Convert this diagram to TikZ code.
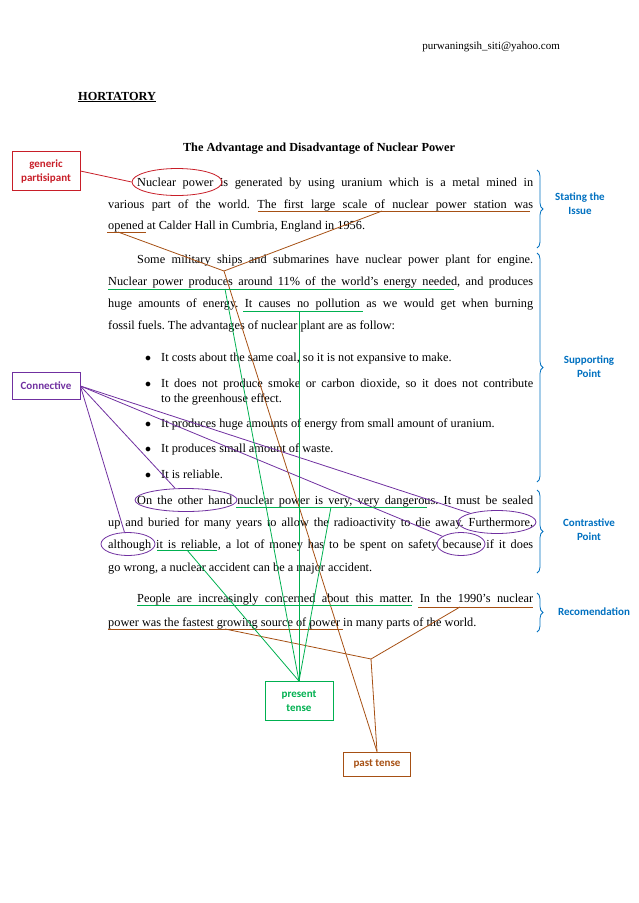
\documentclass[tikz,border=0pt]{standalone}
\usepackage{fontspec}
\setmainfont{Liberation Serif}
\newfontfamily\lab{Carlito}
\usetikzlibrary{decorations.pathreplacing,shapes.geometric}
\definecolor{pred}{RGB}{200,30,40}
\definecolor{ppur}{RGB}{112,48,160}
\definecolor{pgrn}{RGB}{0,176,80}
\definecolor{pbrn}{RGB}{166,80,20}
\definecolor{pblu}{RGB}{0,112,192}
\frenchspacing
\begin{document}
\begin{tikzpicture}[x=1pt,y=-1pt,
 txt/.style={anchor=base west,inner sep=0pt,font=\fontsize{12.3}{14}\selectfont},
 lbox/.style={draw,thick,align=center,font=\lab\bfseries\fontsize{11}{14}\selectfont,inner sep=3pt},
 lbl/.style={align=center,text=pblu,font=\lab\bfseries\fontsize{11}{14}\selectfont},
 ell/.style={draw,thick,ellipse,inner sep=0pt},
 ul/.style={thick},
 br/.style={draw=pblu,thick,decorate,decoration={brace,amplitude=6pt}},
 ln/.style={thick}]
\useasboundingbox (0,0) rectangle (638,903);
\def\J#1#2{\makebox[#1pt][s]{#2}}
% header
\node[txt,anchor=base east,font=\fontsize{11}{13}\selectfont] (mail) at (560,49) {purwaningsih\_siti@yahoo.com};
\node[txt,font=\bfseries\fontsize{12.3}{14}\selectfont] (hort) at (78,100) {\underline{HORTATORY}};
\node[txt,anchor=base,font=\bfseries\fontsize{12.3}{14}\selectfont] (title) at (319,151) {The Advantage and Disadvantage of Nuclear Power};
% P1
\node[txt] (l1) at (137,186) {\J{396}{Nuclear power is generated by using uranium which is a metal mined in}};
\node[txt] (l2) at (108,208) {\J{425}{various part of the world. The first large scale of nuclear power station was}};
\node[txt] (l3) at (108,229) {opened at Calder Hall in Cumbria, England in 1956.};
% P2
\node[txt] (l4) at (137,263) {\J{396}{Some military ships and submarines have nuclear power plant for engine.}};
\node[txt] (l5) at (108,285) {\J{425}{Nuclear power produces around 11\% of the world's energy needed, and produces}};
\node[txt] (l6) at (108,307) {\J{425}{huge amounts of energy. It causes no pollution as we would get when burning}};
\node[txt] (l7) at (108,329) {fossil fuels. The advantages of nuclear plant are as follow:};
% bullets
\foreach \y/\t in {361/{It costs about the same coal, so it is not expansive to make.},387/{\J{372}{It does not produce smoke or carbon dioxide, so it does not contribute}},427/{It produces huge amounts of energy from small amount of uranium.},452/{It produces small amount of waste.},478/{It is reliable.}}
 {\node[txt] at (145,\y) {$\bullet$}; \node[txt] at (161,\y) {\t};}
\node[txt] (b2b) at (161,402) {to the greenhouse effect.};
% P3
\node[txt] (l8) at (137,504) {\J{396}{On the other hand nuclear power is very, very dangerous. It must be sealed}};
\node[txt] (l9) at (108,526) {\J{425}{up and buried for many years to allow the radioactivity to die away. Furthermore,}};
\node[txt] (l10) at (108,548) {\J{425}{although it is reliable, a lot of money has to be spent on safety because if it does}};
\node[txt] (l11) at (108,571) {go wrong, a nuclear accident can be a major accident.};
% P4
\node[txt] (l12) at (137,602) {\J{396}{People are increasingly concerned about this matter. In the 1990's nuclear}};
\node[txt] (l13) at (108,626) {power was the fastest growing source of power in many parts of the world.};
% label boxes
\node[lbox,draw=pred,text=pred,minimum width=68pt,minimum height=39pt] (gen) at (46,171) {generic\\partisipant};
\node[lbox,draw=ppur,text=ppur,minimum width=68pt,minimum height=27pt] (con) at (46,386) {Connective};
\node[lbox,draw=pgrn,text=pgrn,minimum width=68pt,minimum height=39pt] (pres) at (299,701) {present\\tense};
\node[lbox,draw=pbrn,text=pbrn,minimum width=67pt,minimum height=24pt] (past) at (377,764) {past tense};
% braces and labels
\draw[br] (537,170) -- (537,248);
\draw[br] (537,253) -- (537,482);
\draw[br] (537,490) -- (537,573);
\draw[br] (537,593) -- (537,632);
\node[lbl] (s1) at (580,204) {Stating the\\Issue};
\node[lbl] (s2) at (589,367) {Supporting\\Point};
\node[lbl] (s3) at (589,530) {Contrastive\\Point};
\node[lbl] (s4) at (594,612) {Recomendation};
% ellipses
\node[ell,draw=pred,minimum width=90pt,minimum height=27pt] (eNP) at (177,182) {};
\node[ell,draw=ppur,minimum width=102pt,minimum height=23pt] (eOH) at (186,500) {};
\node[ell,draw=ppur,minimum width=78pt,minimum height=23pt] (eFu) at (497,522) {};
\node[ell,draw=ppur,minimum width=54pt,minimum height=23pt] (eAl) at (128,544) {};
\node[ell,draw=ppur,minimum width=48pt,minimum height=23pt] (eBe) at (461,544) {};
\draw[pred,ln] (gen.east) -- (eNP.west);
\foreach \e in {eOH,eAl,eFu,eBe} \draw[ppur,ln] (con.east) -- (\e);
% brown underlines
\draw[pbrn,ul] (258,211) -- (530,211); \draw[pbrn,ul] (107,232) -- (146,232);
\draw[pbrn,ul] (418,607) -- (533,607); \draw[pbrn,ul] (108,629) -- (343,629);
\coordinate (u1) at (382,211); \coordinate (u2) at (118,232);
\coordinate (u3) at (460,607); \coordinate (u4) at (225,629);
\coordinate (j1) at (224,271); \coordinate (j2) at (371,659);
\draw[pbrn,ln] (u2) -- (j1) -- (u1);
\draw[pbrn,ln] (u4) -- (j2) -- (u3);
\draw[pbrn,ln] (j1) -- (past.north);
\draw[pbrn,ln] (j2) -- (past.north);
% green underlines
\draw[pgrn,ul] (108,289) -- (454,289); \draw[pgrn,ul] (243,311) -- (363,311);
\draw[pgrn,ul] (236,507) -- (427,507); \draw[pgrn,ul] (157,550) -- (217,550);
\draw[pgrn,ul] (137,605) -- (412,605);
\coordinate (g1) at (225,289); \coordinate (g2) at (299,311);
\coordinate (g3) at (331,507); \coordinate (g4) at (187,550);
\foreach \g in {g1,g2,g3,g4} \draw[pgrn,ln] (\g) -- (pres.north);
\end{tikzpicture}
\end{document}
